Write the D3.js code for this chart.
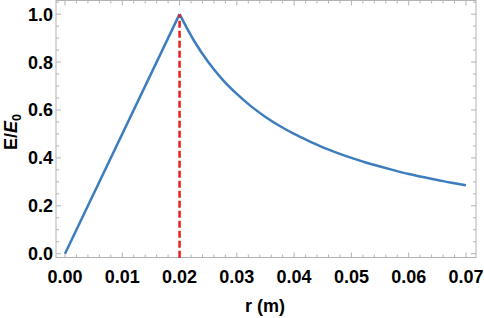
<!DOCTYPE html>
<html><head><meta charset="utf-8">
<script src="https://cdn.jsdelivr.net/npm/d3@7"></script>
<style>body{margin:0;background:#fff}svg{display:block}text{font-family:"Liberation Sans",Arial,sans-serif;font-weight:bold;fill:#000}</style>
</head><body><svg id="c" width="484" height="318"></svg>
<script>
const rValues = [0, 0.02, 0.0225, 0.025, 0.0275, 0.03, 0.0325, 0.035, 0.0375, 0.04, 0.0425, 0.045, 0.0475, 0.05, 0.0525, 0.055, 0.0575, 0.06, 0.0625, 0.065, 0.0675, 0.07];
const eValues = [0, 1.0, 0.89, 0.80, 0.727, 0.667, 0.615, 0.571, 0.533, 0.50, 0.471, 0.444, 0.421, 0.40, 0.381, 0.364, 0.348, 0.333, 0.32, 0.308, 0.296, 0.286];
const peakR = 0.02;
const xTicks = [0, 0.01, 0.02, 0.03, 0.04, 0.05, 0.06, 0.07];
const yTicks = [0, 0.2, 0.4, 0.6, 0.8, 1.0];

const svg = d3.select("#c");
const L = 56, R = 476, T = 0.5, B = 257.5;
const x = d3.scaleLinear().domain([-0.00157, 0.07175]).range([L, R]);
const y = d3.scaleLinear().domain([-0.0158, 1.057]).range([B, T]);

const frameColor = "#b3b3b3";
const g = svg.append("g");
const xMinor = d3.range(0, 0.0701, 0.002).filter(v => Math.abs(v/0.01 - Math.round(v/0.01)) > 1e-6);
const yMinor = d3.range(0, 1.051, 0.05).filter(v => Math.abs(v/0.2 - Math.round(v/0.2)) > 1e-6);
function xt(vals, len) {
  vals.forEach(v => {
    g.append("line").attr("x1", x(v)).attr("x2", x(v)).attr("y1", B).attr("y2", B - len).attr("stroke", frameColor);
    g.append("line").attr("x1", x(v)).attr("x2", x(v)).attr("y1", T).attr("y2", T + len).attr("stroke", frameColor);
  });
}
function yt(vals, len) {
  vals.forEach(v => {
    g.append("line").attr("y1", y(v)).attr("y2", y(v)).attr("x1", L).attr("x2", L + len).attr("stroke", frameColor);
    g.append("line").attr("y1", y(v)).attr("y2", y(v)).attr("x1", R).attr("x2", R - len).attr("stroke", frameColor);
  });
}
xt(xTicks, 5); xt(xMinor, 3);
yt(yTicks, 5); yt(yMinor, 3);
g.append("rect").attr("x", L).attr("y", T).attr("width", R - L).attr("height", B - T)
  .attr("fill", "none").attr("stroke", frameColor).attr("stroke-width", 1);

// labels
svg.append("g").selectAll("text").data(xTicks).join("text")
  .attr("x", d => x(d)).attr("y", 282.5).attr("text-anchor", "middle")
  .attr("font-size", 18).text(d => d3.format(".2f")(d));
svg.append("g").selectAll("text").data(yTicks).join("text")
  .attr("x", 53).attr("y", d => y(d) + 6.5).attr("text-anchor", "end")
  .attr("font-size", 18).text(d => d3.format(".1f")(d));

svg.append("text").attr("x", 265).attr("y", 312).attr("text-anchor", "middle").attr("font-size", 18).text("r (m)");
const yl = svg.append("text").attr("transform", "translate(16.5,132) rotate(-90)").attr("text-anchor", "middle").attr("font-size", 18);
yl.append("tspan").text("E/");
yl.append("tspan").attr("font-style", "italic").text("E");
yl.append("tspan").attr("font-size", 12.5).attr("dy", 4).text("0");

// data line
const pts = rValues.map((r, i) => [r, eValues[i]]);
const rise = pts.filter(p => p[0] <= peakR);
const decay = pts.filter(p => p[0] >= peakR);
svg.append("path").datum(rise).attr("fill", "none").attr("stroke", "#3d7dbd").attr("stroke-width", 2.5)
  .attr("d", d3.line().x(d => x(d[0])).y(d => y(d[1])));
svg.append("path").datum(decay).attr("fill", "none").attr("stroke", "#3d7dbd").attr("stroke-width", 2.5)
  .attr("d", d3.line().x(d => x(d[0])).y(d => y(d[1])).curve(d3.curveMonotoneX));

// dashed peak marker
svg.append("line").attr("x1", x(peakR)).attr("x2", x(peakR)).attr("y1", y(0) + 4).attr("y2", y(1))
  .attr("stroke", "#ee1c1c").attr("stroke-width", 2.5).attr("stroke-dasharray", "7,3");
</script></body></html>
